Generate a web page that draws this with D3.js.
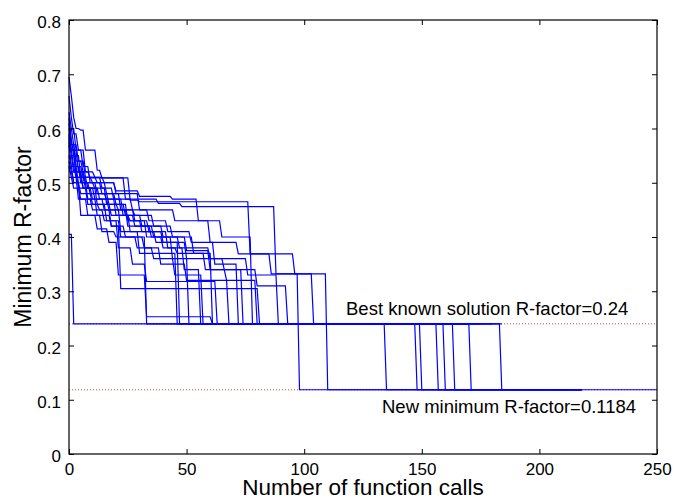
<!DOCTYPE html>
<html><head><meta charset="utf-8">
<script src="https://cdn.jsdelivr.net/npm/d3@7"></script>
<style>body{margin:0;background:#fff}svg{display:block}text{font-family:"Liberation Sans",Arial,Helvetica,sans-serif;fill:#000}</style>
</head><body>
<script>
// Axis ticks
const xTicks = [0, 50, 100, 150, 200, 250];
const yTicks = [0, 0.1, 0.2, 0.3, 0.4, 0.5, 0.6, 0.7, 0.8];
const refLevels = [0.24, 0.1184];
// Each run: step list [function call, minimum R-factor reached]
const run01 = [[0,0.695],[1,0.66],[2,0.62],[3,0.600],[5,0.597],[7,0.560],[12,0.523],[14,0.509],[26,0.468],[30,0.465],[77,0.369],[86,0.332],[110,0.1184]];
const run02 = [[0,0.60],[1,0.57],[3,0.54],[6,0.52],[9,0.509],[24,0.470],[38,0.462],[48,0.456],[88,0.332],[98,0.1184]];
const run03 = [[0,0.405],[2,0.24],[135,0.1184]];
const run04 = [[0,0.62],[1,0.58],[2,0.55],[5,0.51],[8,0.49],[13,0.47],[20,0.44],[26,0.43],[33,0.40],[40,0.38],[46,0.37],[58,0.34],[67,0.32],[80,0.24],[148,0.1184]];
const run05 = [[0,0.57],[1,0.53],[4,0.50],[8,0.47],[12,0.44],[18,0.42],[22,0.305],[81,0.24],[150,0.1184]];
const run06 = [[0,0.55],[2,0.52],[6,0.49],[12,0.46],[16,0.43],[21,0.38],[27,0.35],[33,0.318],[63,0.24]];
const run07 = [[0,0.52],[2,0.50],[5,0.44],[12,0.44],[14,0.41],[20,0.40],[33,0.24]];
const run08 = [[0,0.58],[1,0.56],[3,0.51],[7,0.49],[10,0.47],[15,0.45],[22,0.41],[30,0.37],[46,0.24],[157,0.1184]];
const run09 = [[0,0.53],[1,0.51],[4,0.47],[8,0.44],[12,0.415],[17,0.39],[21,0.33],[33,0.253],[61,0.24]];
const run10 = [[0,0.63],[1,0.60],[3,0.56],[6,0.53],[9,0.50],[14,0.48],[20,0.46],[25,0.43],[31,0.41],[40,0.39],[47,0.24],[160,0.1184]];
const run11 = [[0,0.56],[2,0.53],[5,0.50],[9,0.48],[16,0.47],[23,0.44],[28,0.42],[36,0.40],[44,0.36],[51,0.24]];
const run12 = [[0,0.59],[1,0.56],[4,0.52],[7,0.50],[11,0.49],[16,0.46],[21,0.45],[28,0.43],[34,0.41],[42,0.38],[49,0.34],[56,0.24],[164,0.1184]];
const run13 = [[0,0.51],[2,0.49],[5,0.47],[10,0.45],[15,0.43],[22,0.40],[29,0.38],[36,0.36],[45,0.33],[57,0.24]];
const run14 = [[0,0.61],[1,0.57],[3,0.53],[5,0.51],[10,0.50],[16,0.48],[22,0.45],[28,0.44],[36,0.42],[44,0.40],[53,0.37],[61,0.24],[171,0.1184]];
const run15 = [[0,0.54],[1,0.52],[4,0.49],[8,0.46],[13,0.45],[18,0.42],[24,0.40],[32,0.38],[39,0.35],[50,0.32],[68,0.24]];
const run16 = [[0,0.60],[2,0.57],[4,0.54],[7,0.51],[14,0.49],[19,0.47],[27,0.45],[34,0.43],[42,0.41],[52,0.39],[62,0.35],[72,0.24],[184,0.1184]];
const run17 = [[0,0.575],[1,0.55],[3,0.52],[7,0.50],[12,0.48],[17,0.46],[24,0.44],[31,0.42],[40,0.40],[50,0.375],[60,0.34],[74,0.24]];
const run18 = [[0,0.66],[1,0.62],[2,0.59],[4,0.56],[7,0.52],[11,0.51],[15,0.50],[20,0.485],[30,0.475],[44,0.47],[55,0.43],[65,0.40],[78,0.24]];
const run19 = [[0,0.55],[1,0.53],[3,0.51],[6,0.49],[11,0.47],[17,0.45],[25,0.42],[35,0.40],[47,0.38],[60,0.36],[76,0.33],[89,0.24]];
const run20 = [[0,0.585],[1,0.56],[3,0.53],[6,0.51],[12,0.50],[20,0.48],[30,0.45],[45,0.43],[60,0.39],[72,0.369],[96,0.332],[104,0.24]];
const run21 = [[0,0.53],[2,0.50],[5,0.48],[10,0.46],[18,0.44],[26,0.41],[37,0.39],[50,0.36],[66,0.34],[80,0.31],[93,0.24]];
const runs = [run01,run02,run03,run04,run05,run06,run07,run08,run09,run10,run11,run12,run13,run14,run15,run16,run17,run18,run19,run20,run21];
// Last function call of each run
const runEnds = [250,218,218,218,218,160,120,218,140,218,130,218,110,218,175,218,150,165,170,180,184];
const xLabel = "Number of function calls";
const yLabel = "Minimum R-factor";
const noteBest = "Best known solution R-factor=0.24";
const noteNew = "New minimum R-factor=0.1184";

const W = 676, H = 499;
const m = {left: 69, right: 657, top: 20, bottom: 454};
const svg = d3.select("body").append("svg").attr("width", W).attr("height", H);
svg.append("rect").attr("width", W).attr("height", H).attr("fill", "#fff");
const x = d3.scaleLinear().domain([0, 250]).range([m.left, m.right]);
const y = d3.scaleLinear().domain([0, 0.8]).range([m.bottom, m.top]);

// reference dotted lines
svg.selectAll("line.ref").data(refLevels).enter().append("line")
  .attr("x1", x(0)).attr("x2", x(250)).attr("y1", d => y(d)).attr("y2", d => y(d))
  .attr("stroke", "#e04040").attr("stroke-width", 1).attr("stroke-dasharray", "1,2");

// build polylines: each change happens over one function call
function toPoints(steps, end) {
  const pts = [steps[0]];
  for (let i = 1; i < steps.length; i++) {
    const [xi, vi] = steps[i];
    const prevV = steps[i - 1][1];
    if (xi - 1 > pts[pts.length - 1][0]) pts.push([xi - 1, prevV]);
    pts.push([xi, vi]);
  }
  pts.push([end, steps[steps.length - 1][1]]);
  return pts;
}
const line = d3.line().x(d => x(d[0])).y(d => y(d[1]));
svg.append("g").selectAll("path").data(runs).enter().append("path")
  .attr("d", (d, i) => line(toPoints(d, runEnds[i])))
  .attr("fill", "none").attr("stroke", "#0000ff").attr("stroke-width", 1.2)
  .attr("stroke-linejoin", "miter");

// axes box
const tl = 5;
const gx = svg.append("g").attr("transform", `translate(0,${m.bottom})`)
  .call(d3.axisBottom(x).tickValues(xTicks).tickSizeInner(-tl).tickSizeOuter(0).tickPadding(9).tickFormat(d3.format("d")));
const gxt = svg.append("g").attr("transform", `translate(0,${m.top})`)
  .call(d3.axisTop(x).tickValues(xTicks).tickSizeInner(-tl).tickSizeOuter(0).tickFormat(""));
const gy = svg.append("g").attr("transform", `translate(${m.left},0)`)
  .call(d3.axisLeft(y).tickValues(yTicks).tickSizeInner(-tl).tickSizeOuter(0).tickPadding(8).tickFormat(d => d === 0 ? "0" : d3.format(".1f")(d)));
const gyr = svg.append("g").attr("transform", `translate(${m.right},0)`)
  .call(d3.axisRight(y).tickValues(yTicks).tickSizeInner(-tl).tickSizeOuter(0).tickFormat(""));
[gx, gxt, gy, gyr].forEach(g => {
  g.select(".domain").remove();
  g.selectAll(".tick line").attr("stroke", "#000").attr("stroke-width", 1);
  g.selectAll("text").style("font-size", "17px").attr("fill", "#000");
});
gx.selectAll("text").attr("dy", "0.71em");
gy.selectAll("text").attr("dy", "0.45em");
svg.append("rect").attr("x", m.left).attr("y", m.top).attr("width", m.right - m.left).attr("height", m.bottom - m.top)
  .attr("fill", "none").attr("stroke", "#000").attr("stroke-width", 1.2);

// annotations
svg.append("text").attr("x", 346).attr("y", 315).style("font-size", "18.5px").text(noteBest);
svg.append("text").attr("x", 382).attr("y", 413).style("font-size", "18.5px").text(noteNew);
// axis labels
svg.append("text").attr("x", (m.left + m.right) / 2).attr("y", 495).attr("text-anchor", "middle").style("font-size", "22.5px").text(xLabel);
svg.append("text").attr("transform", `translate(31,${(m.top + m.bottom) / 2}) rotate(-90)`).attr("text-anchor", "middle").style("font-size", "23px").text(yLabel);
</script>
</body></html>
